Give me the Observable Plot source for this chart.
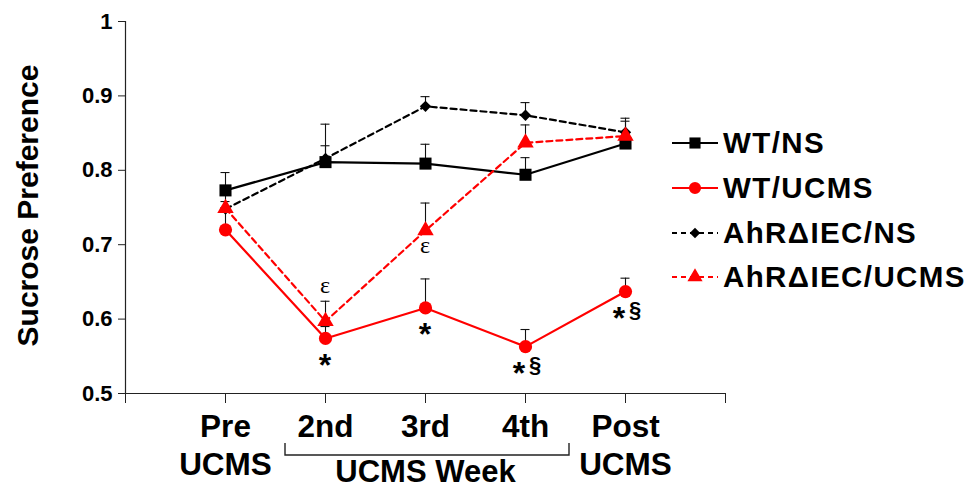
<!DOCTYPE html>
<html>
<head>
<meta charset="utf-8">
<script src="https://cdn.jsdelivr.net/npm/d3@7"></script>
<script src="https://cdn.jsdelivr.net/npm/@observablehq/plot@0.6"></script>
<style>
  html, body { margin: 0; padding: 0; background: #fff; }
  #wrap { position: relative; width: 976px; height: 498px; font-family: "Liberation Sans", Arial, sans-serif; }
  #legend { position: absolute; left: 671px; top: 121px; }
  .row { display: flex; align-items: center; height: 44.7px; }
  .row svg { display: block; margin-right: 4px; }
  .row span { font-size: 29.5px; font-weight: bold; color: #000; white-space: nowrap; letter-spacing: 1.4px; }
</style>
</head>
<body>
<div id="wrap"><div id="legend"></div></div>
<script>
// ---- data ----
const categories = ["Pre", "2nd", "3rd", "4th", "Post"];
const subLabels = ["UCMS", "", "", "", "UCMS"];
const groupLabel = "UCMS Week";
const groupSpan = ["2nd", "4th"];
const seriesNames = ["WT/NS", "WT/UCMS", "AhRΔIEC/NS", "AhRΔIEC/UCMS"];
const wtNS = [0.773, 0.811, 0.809, 0.794, 0.836];
const wtNSErr = [0.024, 0.022, 0.026, 0.023, 0.016];
const wtUCMS = [0.720, 0.574, 0.615, 0.563, 0.637];
const wtUCMSErr = [0.030, 0.016, 0.039, 0.023, 0.018];
const ahrNS = [0.748, 0.816, 0.886, 0.874, 0.851];
const ahrNSErr = [0.010, 0.046, 0.013, 0.017, 0.019];
const ahrUCMS = [0.749, 0.597, 0.719, 0.837, 0.846];
const ahrUCMSErr = [0.022, 0.027, 0.037, 0.024, 0.020];
const yTicks = [0.5, 0.6, 0.7, 0.8, 0.9, 1];
const yLabel = "Sucrose Preference";
// significance marks: [series, category, text, placement]
const annotations = [
  ["AhRΔIEC/UCMS", "2nd", "ε", "above"],
  ["AhRΔIEC/UCMS", "3rd", "ε", "below"],
  ["WT/UCMS", "2nd", "*", "below"],
  ["WT/UCMS", "3rd", "*", "below"],
  ["WT/UCMS", "4th", "*§", "below"],
  ["WT/UCMS", "Post", "*§", "below"]
];

// ---- styles per series ----
const styles = {
  "WT/NS":        {color: "#000", dash: null,  symbol: "square",   r: 6.8},
  "WT/UCMS":      {color: "#ff0000", dash: null,  symbol: "circle",   r: 6.6},
  "AhRΔIEC/NS":   {color: "#000", dash: "6,4", symbol: "diamond2", r: 5.1},
  "AhRΔIEC/UCMS": {color: "#ff0000", dash: "6,4", symbol: "triangle", r: 6.1}
};

const values = [wtNS, wtUCMS, ahrNS, ahrUCMS];
const errs = [wtNSErr, wtUCMSErr, ahrNSErr, ahrUCMSErr];
const rows = [];
seriesNames.forEach((s, k) => categories.forEach((c, i) => {
  rows.push({series: s, cat: c, i, v: values[k][i], e: errs[k][i]});
}));
const byKey = new Map(rows.map(d => [d.series + "|" + d.cat, d]));
const annoRows = annotations.map(([s, c, t, p]) => {
  const d = byKey.get(s + "|" + c);
  return {i: d.i, v: d.v, top: d.v + d.e, text: t, p};
});

const font = "Liberation Sans, Arial, sans-serif";
const marks = [];
// error bars
marks.push(Plot.ruleX(rows, {x: "i", y1: "v", y2: d => d.v + d.e, stroke: "#111", strokeWidth: 1.1}));
marks.push(Plot.ruleY(rows, {y: d => d.v + d.e, x1: d => d.i - 0.045, x2: d => d.i + 0.045, stroke: "#111", strokeWidth: 1.1}));
// axes lines
marks.push(Plot.ruleY([0.5], {stroke: "#222", strokeWidth: 1.2}));
marks.push(Plot.ruleX([-1], {stroke: "#222", strokeWidth: 1.2}));
// series lines + markers
for (const s of seriesNames) {
  const st = styles[s];
  const data = rows.filter(d => d.series === s);
  marks.push(Plot.line(data, {x: "i", y: "v", stroke: st.color, strokeWidth: 2.2, strokeDasharray: st.dash}));
  marks.push(Plot.dot(data, {x: "i", y: "v", symbol: () => st.symbol, r: st.r, fill: st.color, stroke: "none"}));
}
// y axis
marks.push(Plot.axisY({ticks: yTicks, tickSize: 7, tickPadding: 6, tickFormat: d => String(+d.toFixed(1)), fontSize: 22, fontWeight: "bold", label: null, stroke: "#222"}));
// x axis ticks
marks.push(Plot.axisX({ticks: d3.range(-1, categories.length + 1), tickSize: 10, tickFormat: () => "", label: null, stroke: "#222"}));
// x category labels
marks.push(Plot.text(categories, {x: (d, i) => i, text: d => d, frameAnchor: "bottom", dy: 43, fontSize: 31.5, fontWeight: "bold"}));
marks.push(Plot.text(subLabels, {x: (d, i) => i, text: d => d, frameAnchor: "bottom", dy: 81, fontSize: 31.5, fontWeight: "bold"}));
marks.push(Plot.text([groupLabel], {x: () => (categories.indexOf(groupSpan[0]) + categories.indexOf(groupSpan[1])) / 2, text: d => d, frameAnchor: "bottom", dy: 88, fontSize: 31, fontWeight: "bold"}));
// y title
marks.push(Plot.text([yLabel], {frameAnchor: "left", textAnchor: "middle", rotate: -90, dx: -97, dy: -2, fontSize: 30, fontWeight: "bold"}));

const chart = Plot.plot({
  width: 976, height: 498,
  marginLeft: 125, marginRight: 251, marginTop: 21, marginBottom: 105,
  x: {type: "linear", domain: [-1, categories.length], axis: null},
  y: {domain: [0.5, 1], axis: null},
  style: {fontFamily: font, background: "white", color: "#000", overflow: "visible"},
  marks: [
    ...marks,
    // significance marks (offsets in pixels from the point / error-bar cap)
    (index, scales, vals, dims) => {
      const g = d3.create("svg:g").attr("text-anchor", "middle").attr("fill", "#000");
      for (const d of annoRows) {
        const x = scales.x(d.i);
        if (d.text === "ε") {
          const y = d.p === "above" ? scales.y(d.top) - 8 : scales.y(d.v) + 23;
          g.append("text").attr("x", x).attr("y", y).attr("font-family", "Liberation Serif, serif")
            .attr("font-size", 24).text(d.text);
        } else {
          const y = scales.y(d.v);
          const chars = [...d.text];
          const star = chars.length > 1 ? x - 6 : x;
          g.append("text").attr("x", star).attr("y", y + 38).attr("font-family", font)
            .attr("font-weight", "bold").attr("font-size", 32).text(chars[0]);
          if (chars[1]) {
            g.append("text").attr("x", x + 10).attr("y", y + 26).attr("font-family", font)
              .attr("font-weight", "bold").attr("font-size", 22).text(chars[1]);
          }
        }
      }
      return g.node();
    },
    // bracket under the UCMS weeks
    (index, scales, vals, dims) => {
      const x1 = scales.x(categories.indexOf(groupSpan[0])) - 40;
      const x2 = scales.x(categories.indexOf(groupSpan[1])) + 44;
      const y = dims.height - dims.marginBottom + 62;
      return d3.create("svg:path").attr("d", `M${x1},${y - 12}V${y}H${x2}V${y - 12}`)
        .attr("fill", "none").attr("stroke", "#222").attr("stroke-width", 1.4).node();
    }
  ]
});
document.getElementById("wrap").prepend(chart);

// legend
const legend = document.getElementById("legend");
for (const s of seriesNames) {
  const st = styles[s];
  const row = document.createElement("div");
  row.className = "row";
  const sym = d3.create("svg").attr("width", 48).attr("height", 20);
  sym.append("line").attr("x1", 1).attr("x2", 47).attr("y1", 10).attr("y2", 10)
    .attr("stroke", st.color).attr("stroke-width", 2.2).attr("stroke-dasharray", st.dash ? "5,4" : null);
  const symType = {square: d3.symbolSquare, circle: d3.symbolCircle, diamond2: d3.symbolDiamond2, triangle: d3.symbolTriangle}[st.symbol];
  sym.append("path").attr("transform", "translate(24,10)").attr("d", d3.symbol(symType, Math.PI * st.r * st.r * 0.85)()).attr("fill", st.color);
  row.appendChild(sym.node());
  const t = document.createElement("span");
  t.textContent = s;
  row.appendChild(t);
  legend.appendChild(row);
}
</script>
</body>
</html>
